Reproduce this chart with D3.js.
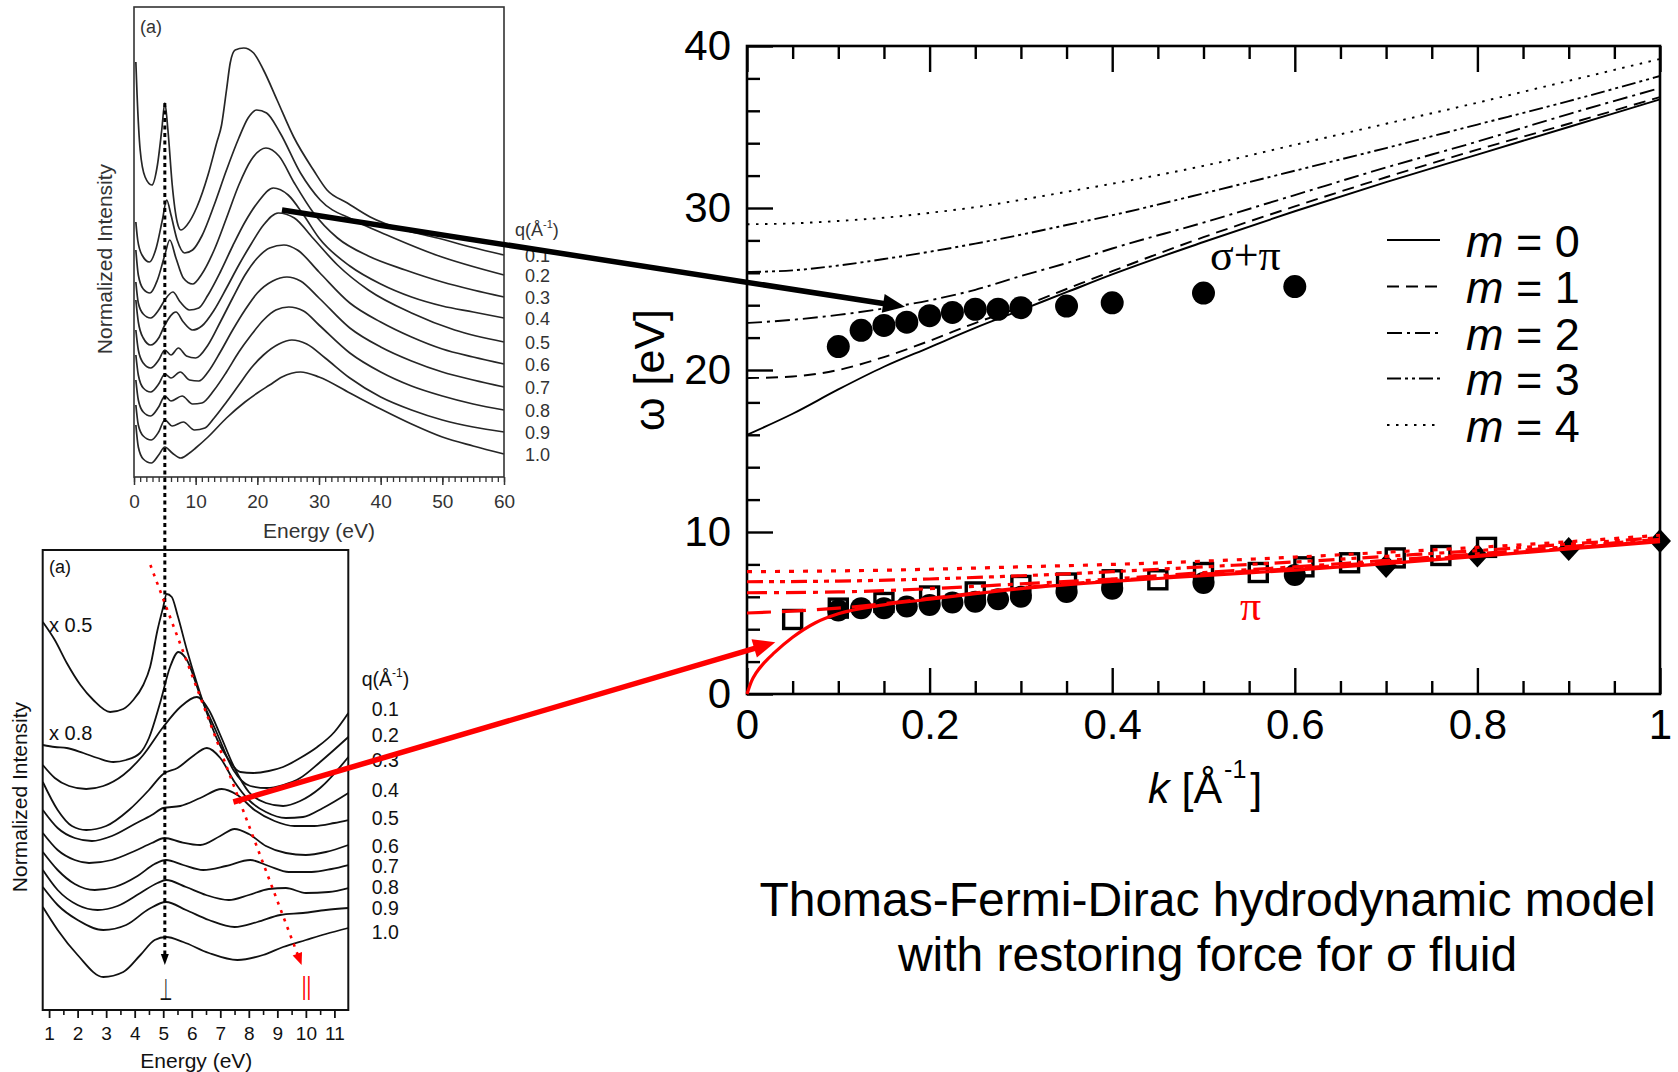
<!DOCTYPE html>
<html>
<head>
<meta charset="utf-8">
<script src="https://cdn.jsdelivr.net/npm/d3@7/dist/d3.min.js"></script>
<style>
html,body{margin:0;padding:0;background:#fff;}
svg{display:block;}
</style>
</head>
<body>
<svg id="fig" width="1678" height="1072" xmlns="http://www.w3.org/2000/svg"></svg>
<script>
// ===================== DATA =====================
// ---- Main panel: dispersion omega(k), k in 1/Å, omega in eV ----
const kGrid   = [0,0.05,0.1,0.15,0.2,0.25,0.3,0.35,0.4,0.5,0.6,0.7,0.8,0.9,1.0];
const sigmaM0 = [16.0,17.3,18.8,20.2,21.4,22.6,23.7,24.8,25.9,27.9,29.8,31.6,33.3,35.0,36.7];
const sigmaM1 = [19.5,19.6,20.0,20.8,21.8,22.9,23.9,25.0,26.1,28.2,30.1,31.9,33.6,35.2,36.85];
const sigmaM2 = [22.9,23.1,23.4,23.8,24.3,24.95,25.8,26.6,27.5,29.1,30.8,32.5,34.1,35.8,37.4];
const sigmaM3 = [26.05,26.15,26.45,26.85,27.3,27.8,28.35,28.95,29.55,30.9,32.3,33.7,35.15,36.6,38.15];
const sigmaM4 = [29.0,29.05,29.2,29.4,29.7,30.05,30.5,31.0,31.5,32.6,33.9,35.2,36.5,37.85,39.2];

const kPiSolid = [0,0.005,0.01,0.02,0.03,0.05,0.075,0.1,0.15,0.2,0.25,0.3,0.4,0.5,0.6,0.7,0.8,0.9,1.0];
const piM0     = [0,0.8,1.3,2.0,2.55,3.5,4.4,4.95,5.5,5.85,6.2,6.5,6.95,7.3,7.65,8.05,8.5,8.95,9.4];
const kPi  = [0,0.1,0.2,0.3,0.4,0.5,0.6,0.7,0.8,0.9,1.0];
const piM1 = [5.0,5.3,5.9,6.55,7.0,7.4,7.75,8.15,8.55,9.0,9.45];
const piM2 = [6.25,6.3,6.5,6.8,7.1,7.5,7.85,8.25,8.65,9.1,9.55];
const piM3 = [6.93,6.97,7.1,7.3,7.55,7.85,8.15,8.5,8.85,9.25,9.65];
const piM4 = [7.55,7.6,7.7,7.85,8.0,8.2,8.45,8.75,9.05,9.4,9.8];

const kSigPiDots = [0.1,0.125,0.15,0.175,0.2,0.225,0.25,0.275,0.3,0.35,0.4,0.5,0.6];
const wSigPiDots = [21.45,22.45,22.75,22.95,23.35,23.55,23.75,23.75,23.85,23.95,24.15,24.75,25.15];
const kPiDots = [0.1,0.125,0.15,0.175,0.2,0.225,0.25,0.275,0.3,0.35,0.4,0.5,0.6];
const wPiDots = [5.15,5.3,5.3,5.4,5.5,5.65,5.7,5.85,6.0,6.3,6.5,6.85,7.35];
const kSquares = [0.05,0.1,0.15,0.2,0.25,0.3,0.35,0.4,0.45,0.5,0.56,0.61,0.66,0.71,0.76,0.81];
const wSquares = [4.6,5.3,5.65,6.05,6.3,6.7,6.85,7.05,7.05,7.5,7.5,7.85,8.1,8.4,8.55,9.05];
const kDiamonds = [0.7,0.8,0.9,1.0];
const wDiamonds = [7.9,8.55,8.95,9.45];

const xMajorTicks = [0,0.2,0.4,0.6,0.8,1];
const xTickLabels = ["0","0.2","0.4","0.6","0.8","1"];
const yMajorTicks = [0,10,20,30,40];
const legendLabels = ["0","1","2","3","4"];

// ---- Top-left inset: EELS spectra, [energy eV, normalized intensity (offset, arb.)] ----
const topQLabels = ["0.1","0.2","0.3","0.4","0.5","0.6","0.7","0.8","0.9","1.0"];
const topSpec01 = [[0.3,415],[0.5,382],[1.0,327],[1.8,300],[2.9,292],[3.8,312],[4.5,347],[5.0,374],[5.5,347],[6.2,292],[7.0,255],[7.6,247],[8.6,252],[10.2,270],[12,302],[13.4,334],[14.2,352],[15,387],[15.6,414],[16.4,427],[17.8,429],[19.4,424],[21,407],[23.2,377],[25.9,340],[29.1,307],[31.3,287],[34.6,274],[38.3,260],[43.8,247],[49.2,239],[54.6,230],[60,222]];
const topSpec02 = [[0.3,255],[0.6,237],[1.3,222],[2.5,215],[3.6,229],[4.6,257],[5.3,277],[6.0,262],[7.0,237],[8.2,224],[9.5,227],[11,241],[13,272],[15,307],[17,339],[18.5,359],[19.9,367],[21.5,364],[23.7,344],[27,304],[30.2,277],[35.6,257],[41,242],[49,222],[60,202]];
const topSpec03 = [[0.3,227],[0.7,202],[1.5,188],[2.6,184],[3.8,197],[5.0,222],[5.8,237],[6.8,219],[8.0,199],[9.5,193],[11,203],[13,227],[15,259],[17,292],[19,317],[21.4,329],[23.5,321],[26,294],[29,265],[33,239],[38,221],[44,207],[50,195],[55,187],[60,180]];
const topSpec04 = [[0.3,195],[0.7,174],[1.5,163],[2.7,159],[4.0,167],[5.0,177],[6.3,185],[7.5,175],[9.0,167],[10.5,169],[12,182],[14,205],[16,231],[18,255],[20,274],[22.6,289],[25,282],[27.5,262],[30,239],[35,211],[40,193],[45,180],[50,171],[55,165],[60,159]];
const topSpec05 = [[0.3,177],[0.7,155],[1.5,139],[2.7,132],[4.0,139],[5.0,152],[6.8,165],[8.0,155],[9.5,147],[11,151],[13,167],[15,189],[17,212],[19,233],[21,252],[23.4,264],[26,259],[29,239],[33,212],[38,187],[45,164],[52,147],[60,135]];
const topSpec06 = [[0.3,147],[0.7,127],[1.5,114],[2.7,109],[4.0,117],[5.0,127],[6.0,122],[7.2,129],[8.5,121],[10,119],[12,132],[14,155],[16,179],[18,202],[20,219],[22,229],[24.3,232],[26.5,227],[30,205],[35,174],[40,155],[45,140],[50,128],[55,120],[60,113]];
const topSpec07 = [[0.3,122],[0.7,102],[1.5,89],[2.7,85],[4.0,93],[5.0,103],[6.0,99],[7.5,105],[9,97],[10.5,96],[12,105],[14,125],[16,147],[18,167],[20,184],[22.5,196],[24.8,200],[27,196],[30,179],[35,149],[40,130],[45,116],[50,105],[55,97],[60,90]];
const topSpec08 = [[0.3,97],[0.7,77],[1.5,65],[2.7,61],[4.0,70],[5.0,81],[6.0,76],[7.8,81],[9.5,73],[11,74],[13,87],[15,105],[17,125],[19,142],[21,157],[23,167],[25.1,170],[27.5,166],[30,152],[35,124],[40,105],[45,91],[50,81],[55,73],[60,67]];
const topSpec09 = [[0.3,72],[0.7,52],[1.5,41],[2.8,37],[4.0,45],[5.0,57],[6.2,51],[8.0,55],[9.8,47],[11.5,49],[13,59],[15,75],[17,92],[19,109],[21,122],[23.5,133],[25.6,137],[28,133],[31,119],[35,99],[40,80],[45,67],[50,57],[55,50],[60,45]];
const topSpec10 = [[0.3,52],[0.7,30],[1.5,18],[2.8,14],[4.0,22],[5.0,30],[6.2,24],[7.6,19],[9,24],[10,29],[12,40],[15,59],[18,75],[20,84],[22,92],[24,100],[27,105],[30,100],[35,84],[40,68],[45,53],[50,40],[55,31],[60,23]];
const topEnergyTicks = [0,10,20,30,40,50,60];

// ---- Bottom-left inset: low-energy spectra ----
const botQLabels = ["0.1","0.2","0.3","0.4","0.5","0.6","0.7","0.8","0.9","1.0"];
const botSpec01 = [[0.78,388],[1.2,370],[1.62,347],[2.1,325],[2.55,310],[3.14,298],[3.6,301],[3.95,310],[4.3,325],[4.54,343],[4.8,380],[5.0,403],[5.12,416],[5.3,413],[5.5,395],[5.83,360],[6.2,325],[6.53,297],[6.9,270],[7.23,253],[7.7,238],[8.16,237],[8.7,239],[9.2,243],[9.8,252],[10.4,263],[11,278],[11.49,297]];
const botSpec02 = [[0.78,265],[1.2,263],[1.62,262],[2.2,257],[2.7,252],[3.25,248],[3.7,250],[4.19,257],[4.5,272],[4.89,307],[5.24,343],[5.53,358],[5.83,350],[6.29,315],[6.88,277],[7.46,240],[8.05,224],[8.63,222],[9.2,225],[9.8,232],[10.5,248],[11.49,273]];
const botSpec03 = [[0.78,245],[1.2,232],[1.7,224],[2.3,221],[2.9,224],[3.6,235],[4.3,255],[5.0,283],[5.6,303],[6.18,313],[6.6,300],[7.0,275],[7.5,242],[8.0,218],[8.6,207],[9.2,204],[9.8,209],[10.5,222],[11.49,253]];
const botSpec04 = [[0.78,228],[1.3,200],[1.8,184],[2.3,180],[3.0,184],[3.8,200],[4.5,220],[5.0,236],[5.5,242],[6.0,253],[6.53,262],[7.0,252],[7.5,228],[8.0,210],[8.6,198],[9.3,192],[9.9,193],[10.6,202],[11.49,217]];
const botSpec05 = [[0.78,200],[1.3,182],[1.9,172],[2.5,169],[3.2,174],[4.0,186],[4.6,195],[5.0,202],[5.6,204],[6.3,212],[7.05,221],[7.6,215],[8.2,200],[8.9,189],[9.6,184],[10.3,184],[11.0,187],[11.49,190]];
const botSpec06 = [[0.78,177],[1.3,160],[1.9,150],[2.4,147],[3.2,150],[4.0,159],[4.6,167],[5.05,172],[5.6,168],[6.3,165],[7.0,174],[7.5,181],[8.0,176],[8.6,164],[9.3,157],[10.0,155],[10.7,158],[11.49,165]];
const botSpec07 = [[0.78,158],[1.3,140],[1.9,126],[2.6,120],[3.3,123],[4.1,134],[4.7,146],[5.1,150],[5.7,145],[6.4,140],[7.2,144],[8.05,150],[8.7,144],[9.4,138],[10.2,138],[10.9,141],[11.49,145]];
const botSpec08 = [[0.78,140],[1.3,120],[2.0,105],[2.7,100],[3.4,104],[4.2,117],[4.8,127],[5.1,130],[5.8,123],[6.5,115],[7.3,110],[8.0,115],[8.7,121],[9.3,122],[10.0,117],[10.8,118],[11.49,122]];
const botSpec09 = [[0.78,123],[1.3,105],[2.0,90],[2.9,80],[3.7,85],[4.5,101],[5.1,108],[5.8,100],[6.6,90],[7.5,83],[8.3,88],[9.1,95],[9.9,97],[10.7,100],[11.49,102]];
const botSpec10 = [[0.78,103],[1.3,80],[2.0,55],[2.9,33],[3.6,38],[4.2,55],[4.7,70],[5.1,73],[5.7,68],[6.6,57],[7.6,50],[8.5,55],[9.2,63],[10.0,70],[10.7,76],[11.49,82]];
const botEnergyTicks = [1,2,3,4,5,6,7,8,9,10,11];

// ---- annotations (in panel data units) ----
const blackArrowFrom = [24.0, 267];   // top inset (E, I)
const blackArrowTo   = [0.173, 23.9]; // main (k, omega)
const redArrowFrom   = [7.46, 208];   // bottom inset (E, I)
const redArrowTo     = [0.031, 3.2];  // main (k, omega)
const redDottedFrom  = [4.55, 445];   // bottom inset
const redDottedTo    = [9.85, 45];
const piPeakEnergy   = 5.0;           // vertical dotted line
const piPeakTopI     = 374;           // top inset
const piLineEndI     = 45;            // bottom inset

// ===================== DRAWING =====================
const SANS = '"Liberation Sans", Arial, Helvetica, sans-serif';
const SERIF = '"Liberation Serif", "Times New Roman", serif';
const RED = '#ff0000';
const svg = d3.select('#fig');
svg.append('rect').attr('width',1678).attr('height',1072).attr('fill','#fff');

// ---------- Top-left inset ----------
const XT = d3.scaleLinear().domain([0,60]).range([134,504]);
const YT = d3.scaleLinear().domain([0,470]).range([477,7]);
const gT = svg.append('g');
const lineT = d3.line().x(d=>XT(d[0])).y(d=>YT(d[1])).curve(d3.curveMonotoneX);
[topSpec01,topSpec02,topSpec03,topSpec04,topSpec05,topSpec06,topSpec07,topSpec08,topSpec09,topSpec10].forEach(s=>{
  gT.append('path').attr('d',lineT(s)).attr('fill','none').attr('stroke','#262626').attr('stroke-width',1.7).attr('stroke-linejoin','round');
});
gT.append('rect').attr('x',XT(0)).attr('y',YT(470)).attr('width',XT(60)-XT(0)).attr('height',YT(0)-YT(470))
  .attr('fill','none').attr('stroke','#333').attr('stroke-width',1.6);
const tMinor = gT.append('g').attr('transform',`translate(0,${YT(0)})`)
  .call(d3.axisBottom(XT).tickValues(d3.range(0,61,1)).tickSize(5).tickFormat(''));
tMinor.select('.domain').remove();
tMinor.selectAll('line').attr('stroke','#333').attr('stroke-width',1.3);
const tMajor = gT.append('g').attr('transform',`translate(0,${YT(0)})`)
  .call(d3.axisBottom(XT).tickValues(topEnergyTicks).tickSize(8).tickPadding(10).tickFormat(d3.format('d')));
tMajor.select('.domain').remove();
tMajor.selectAll('line').attr('stroke','#333').attr('stroke-width',1.5);
tMajor.selectAll('text').attr('font-family',SANS).attr('font-size',19).attr('fill','#333');
gT.append('text').attr('x',XT(30)).attr('y',538).attr('text-anchor','middle')
  .attr('font-family',SANS).attr('font-size',21).attr('fill','#333').text('Energy (eV)');
gT.append('text').attr('transform',`translate(112,${(YT(0)+YT(470))/2+17}) rotate(-90)`).attr('text-anchor','middle')
  .attr('font-family',SANS).attr('font-size',21).attr('fill','#333').text('Normalized Intensity');
gT.append('text').attr('x',XT(0)+6).attr('y',33).attr('font-family',SANS).attr('font-size',18).attr('fill','#333').text('(a)');
// q labels
const qT = gT.append('text').attr('x',515).attr('y',236).attr('font-family',SANS).attr('font-size',18).attr('fill','#333');
qT.append('tspan').text('q(Å');
qT.append('tspan').attr('font-size',11).attr('dy',-8).text('-1');
qT.append('tspan').attr('dy',8).text(')');
const topEnds = [topSpec01,topSpec02,topSpec03,topSpec04,topSpec05,topSpec06,topSpec07,topSpec08,topSpec09,topSpec10];
topQLabels.forEach((q,i)=>{
  const last = topEnds[i][topEnds[i].length-1];
  gT.append('text').attr('x',525).attr('y',YT(last[1])+6.5).attr('font-family',SANS).attr('font-size',18).attr('fill','#333').text(q);
});

// ---------- Bottom-left inset ----------
const XB = d3.scaleLinear().domain([0.776,11.487]).range([42.7,348.3]);
const YB = d3.scaleLinear().domain([0,460]).range([1010,550]);
const gB = svg.append('g');
const lineB = d3.line().x(d=>XB(d[0])).y(d=>YB(d[1])).curve(d3.curveMonotoneX);
const botAll = [botSpec01,botSpec02,botSpec03,botSpec04,botSpec05,botSpec06,botSpec07,botSpec08,botSpec09,botSpec10];
botAll.forEach(s=>{
  gB.append('path').attr('d',lineB(s)).attr('fill','none').attr('stroke','#111').attr('stroke-width',1.8).attr('stroke-linejoin','round');
});
gB.append('rect').attr('x',XB(0.776)).attr('y',YB(460)).attr('width',XB(11.487)-XB(0.776)).attr('height',YB(0)-YB(460))
  .attr('fill','none').attr('stroke','#111').attr('stroke-width',2);
const bMinor = gB.append('g').attr('transform',`translate(0,${YB(0)})`)
  .call(d3.axisBottom(XB).tickValues(d3.range(1.5,11.5,1)).tickSize(5).tickFormat(''));
bMinor.select('.domain').remove();
bMinor.selectAll('line').attr('stroke','#111').attr('stroke-width',1.6);
const bMajor = gB.append('g').attr('transform',`translate(0,${YB(0)})`)
  .call(d3.axisBottom(XB).tickValues(botEnergyTicks).tickSize(8).tickPadding(8.5).tickFormat(d3.format('d')));
bMajor.select('.domain').remove();
bMajor.selectAll('line').attr('stroke','#111').attr('stroke-width',1.8);
bMajor.selectAll('text').attr('font-family',SANS).attr('font-size',19).attr('fill','#111');
gB.append('text').attr('x',XB(6.16)).attr('y',1068).attr('text-anchor','middle')
  .attr('font-family',SANS).attr('font-size',21).attr('fill','#111').text('Energy (eV)');
gB.append('text').attr('transform',`translate(27,797) rotate(-90)`).attr('text-anchor','middle')
  .attr('font-family',SANS).attr('font-size',21).attr('fill','#111').text('Normalized Intensity');
gB.append('text').attr('x',49).attr('y',573).attr('font-family',SANS).attr('font-size',18).attr('fill','#111').text('(a)');
gB.append('text').attr('x',49).attr('y',632).attr('font-family',SANS).attr('font-size',20).attr('fill','#111').text('x 0.5');
gB.append('text').attr('x',49).attr('y',740).attr('font-family',SANS).attr('font-size',20).attr('fill','#111').text('x 0.8');
const qB = gB.append('text').attr('x',361.7).attr('y',686).attr('font-family',SANS).attr('font-size',19.5).attr('fill','#111');
qB.append('tspan').text('q(Å');
qB.append('tspan').attr('font-size',12).attr('dy',-9).text('-1');
qB.append('tspan').attr('dy',9).text(')');
const botLabelY = [715.5,742,767,797,825,852.5,873,894,914.5,939];
botQLabels.forEach((q,i)=>{
  gB.append('text').attr('x',371.7).attr('y',botLabelY[i]).attr('font-family',SANS).attr('font-size',19.5).attr('fill','#111').text(q);
});
// perpendicular / parallel symbols
gB.append('text').attr('x',XB(piPeakEnergy)-4).attr('y',1000).attr('font-family','"DejaVu Sans", sans-serif')
  .attr('font-size',30).attr('textLength',13).attr('lengthAdjust','spacingAndGlyphs').attr('fill','#111').text('⊥');
gB.append('text').attr('x',XB(10.0)-4).attr('y',995).attr('font-family',SANS)
  .attr('font-size',25).attr('textLength',9.5).attr('lengthAdjust','spacingAndGlyphs').attr('fill',RED).text('||');

// ---------- Main chart ----------
const X = d3.scaleLinear().domain([0,1]).range([747,1660]);
const Y = d3.scaleLinear().domain([0,40]).range([694,46]);
const gM = svg.append('g');

// frame
gM.append('rect').attr('x',X(0)).attr('y',Y(40)).attr('width',X(1)-X(0)).attr('height',Y(0)-Y(40))
  .attr('fill','none').attr('stroke','#000').attr('stroke-width',2.6);
const xMinor = d3.range(1,20).map(i=>i*0.05).filter(v=>Math.abs(v*5-Math.round(v*5))>1e-6);
const yMinor = d3.range(2,40,2).filter(v=>v%10!==0);
function styleAxis(g){ g.select('.domain').remove(); g.selectAll('line').attr('stroke','#000').attr('stroke-width',2.4); }
styleAxis(gM.append('g').attr('transform',`translate(0,${Y(0)})`).call(d3.axisBottom(X).tickValues(xMinor).tickSize(-13).tickFormat('')));
const xb = gM.append('g').attr('transform',`translate(0,${Y(0)})`)
  .call(d3.axisBottom(X).tickValues(xMajorTicks).tickSize(-26).tickPadding(15.5).tickFormat((d,i)=>xTickLabels[i]));
styleAxis(xb);
xb.selectAll('text').attr('font-family',SANS).attr('font-size',42).attr('fill','#000');
styleAxis(gM.append('g').attr('transform',`translate(0,${Y(40)})`).call(d3.axisTop(X).tickValues(xMinor).tickSize(-13).tickFormat('')));
styleAxis(gM.append('g').attr('transform',`translate(0,${Y(40)})`).call(d3.axisTop(X).tickValues(xMajorTicks).tickSize(-26).tickFormat('')));
styleAxis(gM.append('g').attr('transform',`translate(${X(0)},0)`).call(d3.axisLeft(Y).tickValues(yMinor).tickSize(-13).tickFormat('')));
const yl = gM.append('g').attr('transform',`translate(${X(0)},0)`)
  .call(d3.axisLeft(Y).tickValues(yMajorTicks).tickSize(-26).tickPadding(16).tickFormat(d3.format('d')));
styleAxis(yl);
yl.selectAll('text').attr('font-family',SANS).attr('font-size',42).attr('fill','#000');

// axis titles
gM.append('text').attr('transform','translate(664,370) rotate(-90)').attr('text-anchor','middle')
  .attr('font-family',SANS).attr('font-size',43).attr('fill','#000').text('ω [eV]');
const xt = gM.append('text').attr('x',1148).attr('y',803).attr('font-family',SANS).attr('font-size',43).attr('fill','#000');
xt.append('tspan').attr('font-style','italic').text('k');
xt.append('tspan').text(' [Å');
xt.append('tspan').attr('font-size',25).attr('dy',-25).attr('dx',2).text('-1');
xt.append('tspan').attr('dy',25).attr('dx',4).text(']');

// sigma model curves
const lineM = d3.line().x(d=>X(d[0])).y(d=>Y(d[1])).curve(d3.curveMonotoneX);
const blackStyles = [
  {data:sigmaM0, dash:null},
  {data:sigmaM1, dash:'12,7'},
  {data:sigmaM2, dash:'15,5,3,5'},
  {data:sigmaM3, dash:'14,4,3,4,3,4'},
  {data:sigmaM4, dash:'2.5,6.5'}
];
blackStyles.forEach(s=>{
  gM.append('path').attr('d',lineM(kGrid.map((k,i)=>[k,s.data[i]]))).attr('fill','none')
    .attr('stroke','#000').attr('stroke-width',1.9).attr('stroke-dasharray',s.dash);
});

// markers
gM.selectAll('.sqr').data(kSquares.map((k,i)=>[k,wSquares[i]])).enter().append('rect')
  .attr('x',d=>X(d[0])-9).attr('y',d=>Y(d[1])-9).attr('width',18).attr('height',18)
  .attr('fill','#fff').attr('stroke','#000').attr('stroke-width',3.4);
gM.selectAll('.dia').data(kDiamonds.map((k,i)=>[k,wDiamonds[i]])).enter().append('path')
  .attr('d',d=>{const x=X(d[0]),y=Y(d[1]);return `M${x},${y-12}L${x+11},${y}L${x},${y+12}L${x-11},${y}Z`;})
  .attr('fill','#000');
gM.selectAll('.pdot').data(kPiDots.map((k,i)=>[k,wPiDots[i]])).enter().append('circle')
  .attr('cx',d=>X(d[0])).attr('cy',d=>Y(d[1])).attr('r',11).attr('fill','#000');
gM.selectAll('.sdot').data(kSigPiDots.map((k,i)=>[k,wSigPiDots[i]])).enter().append('circle')
  .attr('cx',d=>X(d[0])).attr('cy',d=>Y(d[1])).attr('r',11.5).attr('fill','#000');

// pi model curves (red)
const redStyles = [
  {k:kPi, data:piM4, dash:'5,9'},
  {k:kPi, data:piM3, dash:'16,6,5,6,5,6'},
  {k:kPi, data:piM2, dash:'20,7,5,7'},
  {k:kPi, data:piM1, dash:'24,11'},
  {k:kPiSolid, data:piM0, dash:null}
];
redStyles.forEach(s=>{
  gM.append('path').attr('d',lineM(s.k.map((k,i)=>[k,s.data[i]]))).attr('fill','none')
    .attr('stroke',RED).attr('stroke-width',3.2).attr('stroke-dasharray',s.dash);
});

// labels inside plot
gM.append('text').attr('x',1210).attr('y',270).attr('font-family',SERIF).attr('font-size',44).attr('fill','#000').text('σ+π');
gM.append('text').attr('x',1240).attr('y',620).attr('font-family',SERIF).attr('font-size',42).attr('fill',RED).text('π');

// legend
const legendY = [240,286.5,333,378.5,425];
blackStyles.forEach((s,i)=>{
  gM.append('line').attr('x1',1387).attr('x2',1440).attr('y1',legendY[i]).attr('y2',legendY[i])
    .attr('stroke','#000').attr('stroke-width',1.9).attr('stroke-dasharray',s.dash);
  const t = gM.append('text').attr('x',1466).attr('y',legendY[i]+16.5).attr('font-family',SANS).attr('font-size',45).attr('fill','#000');
  t.append('tspan').attr('font-style','italic').text('m');
  t.append('tspan').text(' = '+legendLabels[i]);
});

// caption
svg.append('text').attr('x',1207.5).attr('y',916).attr('text-anchor','middle').attr('font-family',SANS)
  .attr('font-size',48).attr('fill','#000').text('Thomas-Fermi-Dirac hydrodynamic model');
svg.append('text').attr('x',1207.5).attr('y',971).attr('text-anchor','middle').attr('font-family',SANS)
  .attr('font-size',48).attr('fill','#000').text('with restoring force for σ fluid');

// ---------- annotations ----------
function arrow(p0,p1,color,width,headLen,headHalf,dash){
  const dx=p1[0]-p0[0], dy=p1[1]-p0[1], L=Math.hypot(dx,dy), ux=dx/L, uy=dy/L;
  const bx=p1[0]-ux*headLen, by=p1[1]-uy*headLen;
  svg.append('line').attr('x1',p0[0]).attr('y1',p0[1]).attr('x2',p1[0]-ux*headLen*0.7).attr('y2',p1[1]-uy*headLen*0.7)
    .attr('stroke',color).attr('stroke-width',width).attr('stroke-dasharray',dash||null);
  svg.append('path').attr('d',`M${p1[0]},${p1[1]}L${bx-uy*headHalf},${by+ux*headHalf}L${bx+uy*headHalf},${by-ux*headHalf}Z`).attr('fill',color);
}
// vertical dotted line at pi peak energy
arrow([XT(piPeakEnergy),YT(piPeakTopI)],[XT(piPeakEnergy),YB(piLineEndI)],'#000',3,11,4,'4,3.5');
// red dotted arrow through the peaks
arrow([XB(redDottedFrom[0]),YB(redDottedFrom[1])],[XB(redDottedTo[0]),YB(redDottedTo[1])],RED,2.6,12,5,'3,6');
// black arrow: sigma+pi peak -> main chart
arrow([XT(blackArrowFrom[0]),YT(blackArrowFrom[1])],[X(blackArrowTo[0]),Y(blackArrowTo[1])],'#000',5.5,22,9.5);
// red arrow: pi peak -> main chart
arrow([XB(redArrowFrom[0]),YB(redArrowFrom[1])],[X(redArrowTo[0]),Y(redArrowTo[1])],RED,5.5,22,9.5);
</script>
</body>
</html>
